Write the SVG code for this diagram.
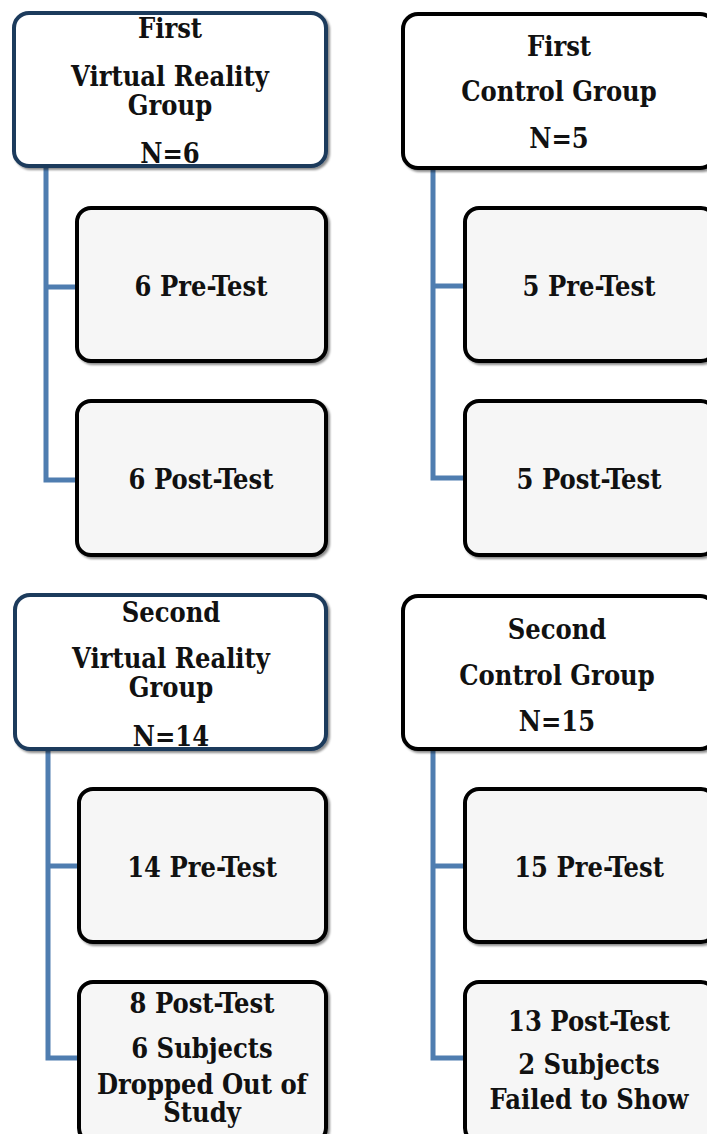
<svg xmlns="http://www.w3.org/2000/svg" width="707" height="1134" viewBox="0 0 707 1134">
<defs>
<filter id="sh" x="-5%" y="-5%" width="115%" height="115%">
<feDropShadow dx="2" dy="2" stdDeviation="1.2" flood-color="#000" flood-opacity="0.45"/>
</filter>
<style>
.grp{fill:#ffffff;stroke:#000;stroke-width:4;filter:url(#sh)}
.grpb{fill:#ffffff;stroke:#1d3a5c;stroke-width:4;filter:url(#sh)}
.sub{fill:#f6f6f6;stroke:#000;stroke-width:4;filter:url(#sh)}
.t{font-family:"DejaVu Serif Condensed","DejaVu Serif","Liberation Serif",serif;font-stretch:condensed;font-weight:bold;font-size:27px;fill:#111;text-anchor:middle}
.c{fill:none;stroke:#4f7db0;stroke-width:5;stroke-linejoin:miter}
</style>
</defs>
<rect width="707" height="1134" fill="#fff"/>
<g id="connectors">
<path class="c" d="M46 167 V480 H78 M46 287 H78"/>
<path class="c" d="M433 169 V478 H466 M433 286 H466"/>
<path class="c" d="M48 750 V1058 H80 M48 866 H80"/>
<path class="c" d="M433 750 V1058 H466 M433 866 H466"/>
</g>
<g id="n1"><rect class="grpb" x="14" y="13" width="312" height="153" rx="15"/>
<text class="t" x="170" y="38">First</text><text class="t" x="170" y="86">Virtual Reality</text><text class="t" x="170" y="115">Group</text><text class="t" x="170" y="163">N=6</text></g>
<g id="n2"><rect class="grp" x="403" y="14" width="312" height="154" rx="15"/>
<text class="t" x="559" y="56">First</text><text class="t" x="559" y="101">Control Group</text><text class="t" x="559" y="148">N=5</text></g>
<g id="n3"><rect class="sub" x="77" y="208" width="249" height="153" rx="14"/><text class="t" x="201" y="296">6 Pre-Test</text></g>
<g id="n4"><rect class="sub" x="77" y="401" width="249" height="154" rx="14"/><text class="t" x="201" y="489">6 Post-Test</text></g>
<g id="n5"><rect class="sub" x="465" y="208" width="250" height="153" rx="14"/><text class="t" x="589" y="296">5 Pre-Test</text></g>
<g id="n6"><rect class="sub" x="465" y="401" width="250" height="154" rx="14"/><text class="t" x="589" y="489">5 Post-Test</text></g>
<g id="n7"><rect class="grpb" x="15" y="595" width="311" height="154" rx="15"/>
<text class="t" x="171" y="622">Second</text><text class="t" x="171" y="668">Virtual Reality</text><text class="t" x="171" y="697">Group</text><text class="t" x="171" y="746">N=14</text></g>
<g id="n8"><rect class="grp" x="403" y="596" width="312" height="153" rx="15"/>
<text class="t" x="557" y="639">Second</text><text class="t" x="557" y="685">Control Group</text><text class="t" x="557" y="731">N=15</text></g>
<g id="n9"><rect class="sub" x="79" y="789" width="247" height="153" rx="14"/><text class="t" x="202" y="877">14 Pre-Test</text></g>
<g id="n10"><rect class="sub" x="465" y="789" width="250" height="153" rx="14"/><text class="t" x="589" y="877">15 Pre-Test</text></g>
<g id="n11"><rect class="sub" x="79" y="982" width="247" height="160" rx="14"/>
<text class="t" x="202" y="1013">8 Post-Test</text><text class="t" x="202" y="1058">6 Subjects</text><text class="t" x="202" y="1094">Dropped Out of</text><text class="t" x="202" y="1122">Study</text></g>
<g id="n12"><rect class="sub" x="465" y="982" width="250" height="160" rx="14"/>
<text class="t" x="589" y="1031">13 Post-Test</text><text class="t" x="589" y="1074">2 Subjects</text><text class="t" x="589" y="1109">Failed to Show</text></g>
</svg>
